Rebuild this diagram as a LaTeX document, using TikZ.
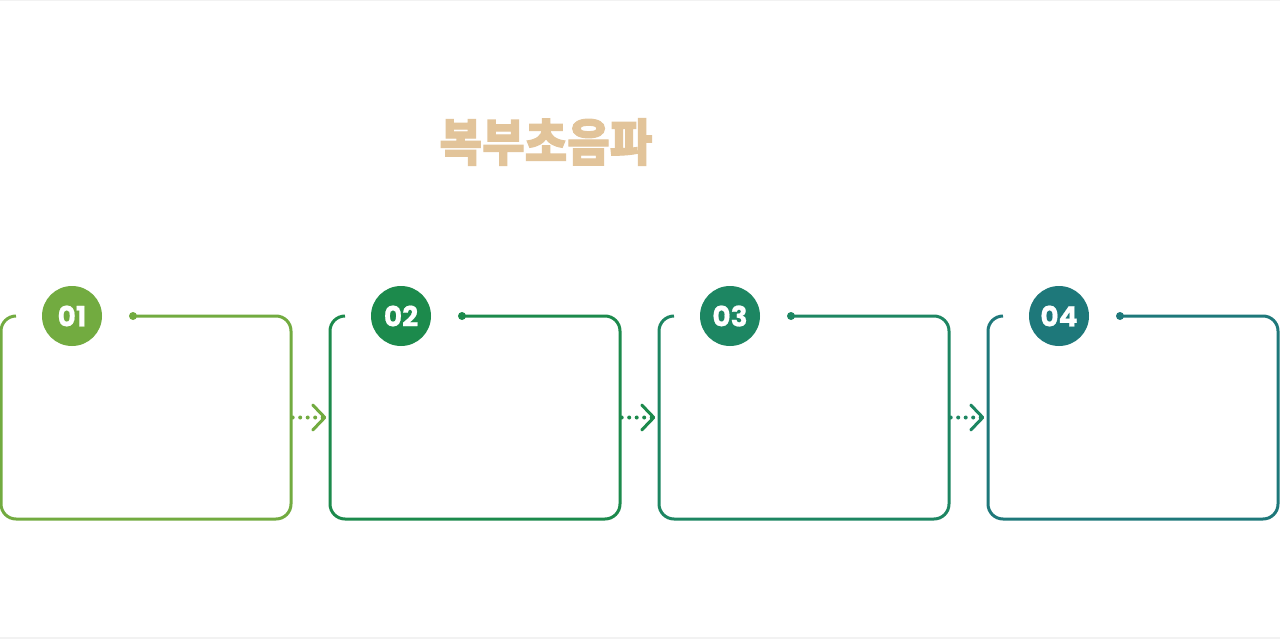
\documentclass[tikz,border=0pt]{standalone}
\usepackage{fontspec}
\newfontfamily\kr{Noto Sans CJK KR}[BoldFeatures={FakeBold=2.2}]
\newfontfamily\pop{Poppins}[BoldFont={* Bold}, BoldFeatures={FakeBold=0.6}]
\usetikzlibrary{arrows.meta,calc}
\definecolor{cA}{HTML}{72AB40}
\definecolor{cB}{HTML}{1C8A4C}
\definecolor{cC}{HTML}{1D8662}
\definecolor{cD}{HTML}{1E787A}
\definecolor{titlec}{HTML}{E2C49A}
\definecolor{edge}{HTML}{F2F2F2}
\begin{document}
\begin{tikzpicture}[x=1pt,y=-1pt,
  boxline/.style={line width=3pt, rounded corners=15pt},
  badge/.style={circle, fill=#1, minimum size=60pt, inner sep=0pt, text=white, font=\pop\bfseries\fontsize{28}{28}\selectfont},
  dotnode/.style={circle, fill=#1, minimum size=8pt, inner sep=0pt},
  frame/.style={minimum width=290pt, minimum height=203pt, inner sep=0pt},
  flow/.style={draw=#1, line width=4pt, line cap=round, dash pattern=on 0pt off 7.5pt, dash phase=-1.5pt,
    -{Straight Barb[length=12pt,width=25pt,line width=3pt,round]}, shorten >=3.5pt}
]
\useasboundingbox (0,0) rectangle (1280,639);
\fill[white] (0,0) rectangle (1280,639);
\draw[edge, line width=1.5pt] (0,0.75) -- (1280,0.75);
\draw[edge, line width=1.5pt] (0,637.75) -- (1280,637.75);

\node[text=titlec, inner sep=0pt] (title) at (546,142)
  {\scalebox{0.89}[0.97]{\kr\bfseries\fontsize{52}{52}\selectfont 복부초음파}};

\foreach \i/\x/\c/\t in {1/1/cA/01, 2/330/cB/02, 3/659/cC/03, 4/988/cD/04}{
  \node[frame] (box\i) at (\x+145,417.5) {};
  \draw[boxline, draw=\c] (\x+15,316) -- (\x,316) -- (\x,519) -- (\x+290,519) -- (\x+290,316) -- (\x+132,316);
  \node[badge=\c] (n\i) at (\x+71,316) {\t};
  \node[dotnode=\c] (d\i) at (\x+132,316) {};
}
\draw[flow=cA] (box1.east) -- (box2.west);
\draw[flow=cB] (box2.east) -- (box3.west);
\draw[flow=cC] (box3.east) -- (box4.west);
\end{tikzpicture}
\end{document}
